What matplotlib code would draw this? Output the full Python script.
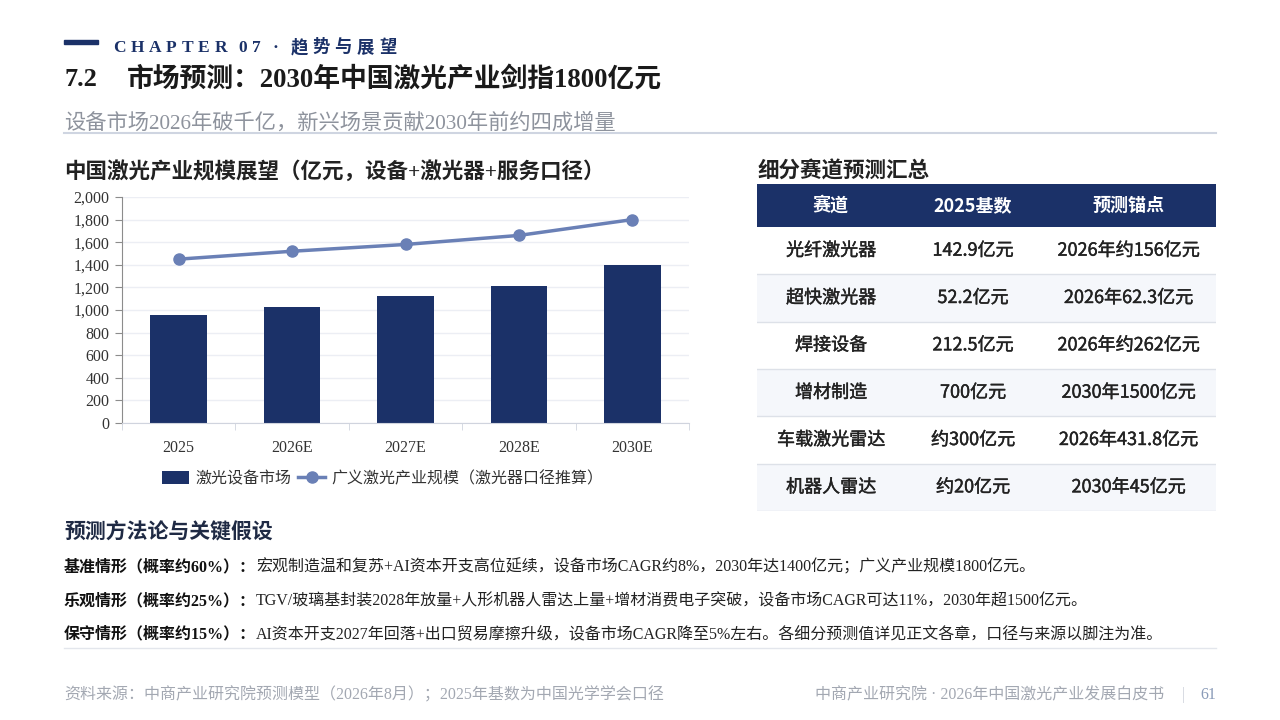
import matplotlib
matplotlib.use("Agg")
import matplotlib.pyplot as plt
import matplotlib.patheffects as pe
from matplotlib.patches import Rectangle
from matplotlib.ticker import FuncFormatter
import numpy as np

SERIF = ['Liberation Serif', 'Noto Sans CJK SC']
SANS = ['Noto Sans CJK SC', 'DejaVu Sans']
plt.rcParams['font.family'] = SERIF

NAVY = '#1b3168'
LINE_BLUE = '#6a80b6'

# chart data (亿元)
years = ['2025', '2026E', '2027E', '2028E', '2030E']
equipment = [960, 1030, 1120, 1210, 1400]
industry = [1450, 1520, 1580, 1660, 1800]

# table data
table_cols = ['赛道', '2025基数', '预测锚点']
tracks = ['光纤激光器', '超快激光器', '焊接设备', '增材制造', '车载激光雷达', '机器人雷达']
base_2025 = ['142.9亿元', '52.2亿元', '212.5亿元', '700亿元', '约300亿元', '约20亿元']
anchors = ['2026年约156亿元', '2026年62.3亿元', '2026年约262亿元', '2030年1500亿元',
           '2026年431.8亿元', '2030年45亿元']

scenario_labels = ['基准情形（概率约60%）：', '乐观情形（概率约25%）：', '保守情形（概率约15%）：']
scenario_texts = [
    '宏观制造温和复苏+AI资本开支高位延续，设备市场CAGR约8%，2030年达1400亿元；广义产业规模1800亿元。',
    'TGV/玻璃基封装2028年放量+人形机器人雷达上量+增材消费电子突破，设备市场CAGR可达11%，2030年超1500亿元。',
    'AI资本开支2027年回落+出口贸易摩擦升级，设备市场CAGR降至5%左右。各细分预测值详见正文各章，口径与来源以脚注为准。',
]

fig = plt.figure(figsize=(12.8, 7.2), dpi=100)
renderer = fig.canvas.get_renderer()


def fx(px):
    return px / 1280


def fy(py):
    return 1 - py / 720


def put_parts(x_px, y_px, parts, size, family=SERIF):
    # parts drawn one after another on a shared baseline
    x = x_px
    for s, weight, color in parts:
        t = fig.text(fx(x), fy(y_px), s, fontsize=size, family=family,
                     fontweight=weight, color=color, va='baseline', ha='left')
        x += t.get_window_extent(renderer).width
    return x


# ---- header ----
fig.patches.append(Rectangle((fx(64), fy(44)), fx(34), 4 / 720, color=NAVY,
                             transform=fig.transFigure, figure=fig))
x = 113
for ch in 'CHAPTER 07 · 趋势与展望':
    if ch == ' ':
        x += 7
        continue
    t = fig.text(fx(x), fy(52), ch, fontsize=12.5, fontweight='bold', color=NAVY,
                 va='baseline', family=SERIF)
    x += t.get_window_extent(renderer).width + 4.8

fig.text(fx(64), fy(80), '7.2', fontsize=19, fontweight='bold', color='#1a1a1a', va='center')
fig.text(fx(127), fy(80), '市场预测：2030年中国激光产业剑指1800亿元', fontsize=19.3,
         fontweight='bold', color='#1a1a1a', va='center')
fig.text(fx(64), fy(123), '设备市场2026年破千亿，新兴场景贡献2030年前约四成增量',
         fontsize=15.3, color='#8e939d', va='center')
fig.add_artist(plt.Line2D([fx(64), fx(1216)], [fy(133), fy(133)], color='#cfd5e1', lw=1.5))

# ---- chart ----
fig.text(fx(64), fy(172), '中国激光产业规模展望（亿元，设备+激光器+服务口径）', fontsize=15.5,
         fontweight='bold', color='#222222', va='center')

ax = fig.add_axes([fx(122), fy(423), fx(689 - 122), (423 - 197) / 720])
xpos = np.arange(len(years))
bars = ax.bar(xpos, equipment, width=0.5, color=NAVY, label='激光设备市场', zorder=2)
line, = ax.plot(xpos, industry, color=LINE_BLUE, lw=2.5, marker='o', ms=8,
                label='广义激光产业规模（激光器口径推算）', zorder=3)
ax.set_xlim(-0.5, 4.5)
ax.set_ylim(0, 2000)
ax.set_yticks(range(0, 2001, 200))
ax.yaxis.set_major_formatter(FuncFormatter(lambda v, p: f'{int(v):,}'))
ax.set_xticks(xpos)
ax.set_xticklabels(years)
ax.set_xticks(np.arange(-0.5, 4.6, 1), minor=True)
ax.tick_params(axis='x', which='major', length=0, pad=12, labelsize=11.5, labelcolor='#333333')
ax.tick_params(axis='x', which='minor', length=5, color='#d0d4de')
ax.tick_params(axis='y', length=5, color='#8c8c8c', labelsize=11.5, labelcolor='#333333', pad=4)
ax.yaxis.grid(True, color='#eceef4', lw=1)
ax.set_axisbelow(True)
for s in ['top', 'right']:
    ax.spines[s].set_visible(False)
ax.spines['left'].set_color('#8c8c8c')
ax.spines['bottom'].set_color('#d0d4de')

fig.legend([bars, line], [bars.get_label(), line.get_label()], loc='center',
           bbox_to_anchor=(fx(383), fy(479)), ncol=2,
           frameon=False, prop={'family': SERIF, 'size': 11.5}, handlelength=1.7,
           handleheight=0.8, columnspacing=0.4, handletextpad=0.4, labelcolor='#333333')

# ---- table ----
fig.text(fx(757), fy(172), '细分赛道预测汇总', fontsize=15.5, fontweight='bold',
         color='#222222', va='center')
tab = fig.add_axes([fx(757), fy(511), fx(1216 - 757), (511 - 184) / 720])
tab.set_xlim(0, 459)
tab.set_ylim(327, 0)
tab.axis('off')
col_edges = [0, 148, 284, 459]
head_h = 43
row_h = (327 - head_h) / len(tracks)
tab.add_patch(Rectangle((0, 0), 459, head_h, color=NAVY, lw=0))
for j, name in enumerate(table_cols):
    tab.text((col_edges[j] + col_edges[j + 1]) / 2, head_h / 2, name, ha='center', va='center',
             color='white', fontsize=13, fontweight='bold', family=SANS)
medium = [pe.withStroke(linewidth=0.3, foreground='#222222')]
for i in range(len(tracks)):
    top = head_h + i * row_h
    if i % 2 == 1:
        tab.add_patch(Rectangle((0, top), 459, row_h, color='#f5f7fb', lw=0))
    tab.plot([0, 459], [top + row_h, top + row_h], color='#dde1e8', lw=1)
    row = [tracks[i], base_2025[i], anchors[i]]
    for j, val in enumerate(row):
        tab.text((col_edges[j] + col_edges[j + 1]) / 2, top + row_h / 2, val, ha='center',
                 va='center', color='#222222', fontsize=13, family=SANS, path_effects=medium)

# ---- methodology ----
fig.text(fx(64), fy(533), '预测方法论与关键假设', fontsize=15, fontweight='bold',
         color='#1f2a44', va='center')
for k, (lab, txt) in enumerate(zip(scenario_labels, scenario_texts)):
    yb = [571, 605, 638][k]
    put_parts(64, yb, [(lab, 'bold', '#111111'), (txt, 'normal', '#222222')], 11.5)

# ---- footer ----
fig.add_artist(plt.Line2D([fx(64), fx(1216)], [fy(648), fy(648)], color='#e3e6ec', lw=1))
fig.text(fx(64), fy(695), '资料来源：中商产业研究院预测模型（2026年8月）；2025年基数为中国光学学会口径',
         fontsize=11.5, color='#a3a8b2', va='center')
fig.text(fx(1216), fy(695), '61', fontsize=11.5, color='#8a9bb8', va='center', ha='right')
fig.text(fx(1183), fy(695), '|', fontsize=11.5, color='#cdd1da', va='center', ha='center')
fig.text(fx(1164), fy(695), '中商产业研究院 · 2026年中国激光产业发展白皮书', fontsize=11.5,
         color='#a3a8b2', va='center', ha='right')

fig.savefig('out.png', dpi=100)
